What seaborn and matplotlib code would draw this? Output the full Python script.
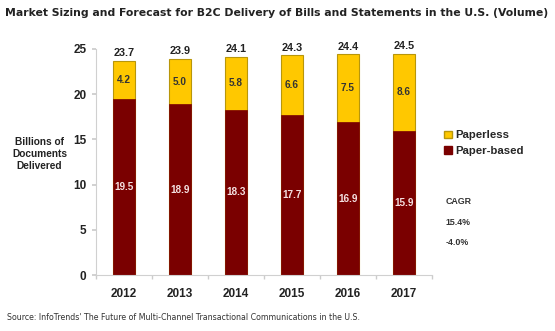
import matplotlib
matplotlib.use("Agg")
import matplotlib.pyplot as plt
import seaborn as sns
import pandas as pd
import numpy as np
from matplotlib.patches import Patch

years = ["2012", "2013", "2014", "2015", "2016", "2017"]
paper_based = [19.5, 18.9, 18.3, 17.7, 16.9, 15.9]
paperless = [4.2, 5.0, 5.8, 6.6, 7.5, 8.6]
totals = [23.7, 23.9, 24.1, 24.3, 24.4, 24.5]
cagr_labels = ["CAGR", "15.4%", "-4.0%"]

sns.set_theme(style="white")
plt.rcParams['font.family'] = ['Liberation Sans', 'DejaVu Sans']

YELLOW = "#FFC800"
YEDGE = "#B8960A"
MAROON = "#7A0000"

df = pd.DataFrame({"year": years, "paper": paper_based, "paperless": paperless,
                   "total": [p + q for p, q in zip(paper_based, paperless)]})

fig = plt.figure(figsize=(5.55, 3.31), dpi=100)
ax = fig.add_axes([0.173, 0.169, 0.605, 0.683])

sns.barplot(data=df, x="year", y="total", color=YELLOW, width=0.4, ax=ax,
            edgecolor=YEDGE, linewidth=0.8, saturation=1)
sns.barplot(data=df, x="year", y="paper", color=MAROON, width=0.4, ax=ax,
            edgecolor=MAROON, linewidth=0.5, saturation=1)

ax.set_ylim(0, 25)
ax.set_xlim(-0.5, 5.5)
ax.set_yticks([0, 5, 10, 15, 20, 25])
ax.set_xlabel("")
ax.set_ylabel("")
for lbl in ax.get_yticklabels() + ax.get_xticklabels():
    lbl.set_fontweight("bold")
    lbl.set_fontsize(8.5)
    lbl.set_color("#222222")
ax.tick_params(axis="y", length=3, color="#cccccc", pad=4, left=True)
ax.tick_params(axis="x", which="major", length=0, pad=9)
ax.set_xticks(np.arange(-0.5, 6.0, 1.0), minor=True)
ax.tick_params(axis="x", which="minor", length=3, color="#cccccc", bottom=True)

for s in ["top", "right"]:
    ax.spines[s].set_visible(False)
for s in ["left", "bottom"]:
    ax.spines[s].set_color("#d0d0d0")
    ax.spines[s].set_linewidth(0.8)

for i in range(len(years)):
    ax.text(i, paper_based[i] / 2, f"{paper_based[i]:.1f}", ha="center", va="center",
            fontsize=7.2, fontweight="bold", color="#F4E0E0")
    ax.text(i, paper_based[i] + paperless[i] / 2, f"{paperless[i]:.1f}", ha="center",
            va="center", fontsize=7.2, fontweight="bold", color="#333333")
    ax.text(i, paper_based[i] + paperless[i] + 0.3, f"{totals[i]:.1f}", ha="center",
            va="bottom", fontsize=7.8, fontweight="bold", color="#222222")

fig.text(0.009, 0.962, "Market Sizing and Forecast for B2C Delivery of Bills and Statements in the U.S. (Volume)",
         fontsize=7.85, fontweight="bold", ha="left", va="center", color="#222222",
         family="DejaVu Sans")

fig.text(0.071, 0.535, "Billions of\nDocuments\nDelivered", fontsize=7.3, fontweight="bold",
         ha="center", va="center", linespacing=1.3, color="#222222")

handles = [Patch(facecolor=YELLOW, edgecolor=YEDGE, label="Paperless"),
           Patch(facecolor=MAROON, edgecolor=MAROON, label="Paper-based")]
fig.legend(handles=handles, loc="center left", bbox_to_anchor=(0.79, 0.567), frameon=False,
           prop={"weight": "bold", "size": 8.2, "family": "Liberation Sans"}, handlelength=0.7,
           handleheight=0.7, handletextpad=0.3, labelspacing=0.5, borderpad=0)

for j, t in enumerate(cagr_labels):
    fig.text(0.803, 0.39 - j * 0.062, t, fontsize=6.4, fontweight="bold", ha="left",
             va="center", color="#333333")

fig.text(0.013, 0.04, "Source: InfoTrends' The Future of Multi-Channel Transactional Communications in the U.S.",
         fontsize=5.7, ha="left", va="center", color="#333333", family="DejaVu Sans")

fig.savefig("out.png", dpi=100)
